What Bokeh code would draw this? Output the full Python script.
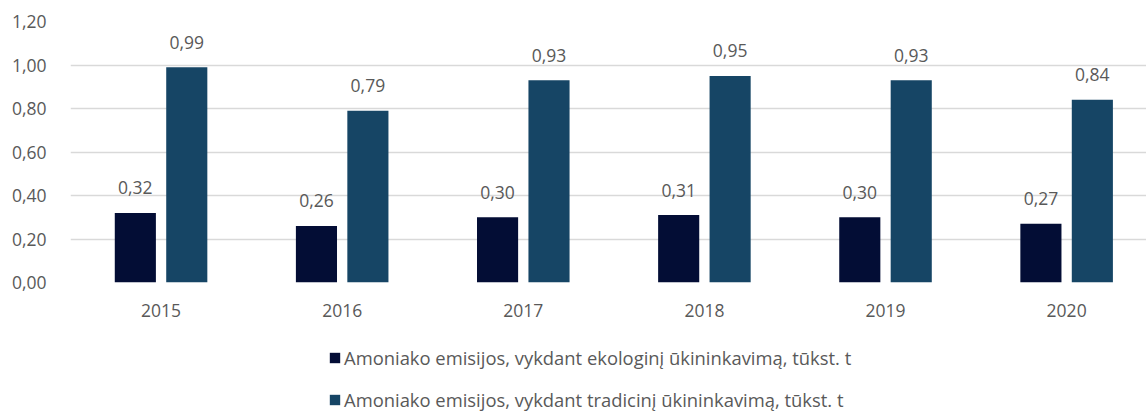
from bokeh.plotting import figure
from bokeh.layouts import column
from bokeh.models import (ColumnDataSource, Range1d, FixedTicker, CustomJSTickFormatter,
                          Legend, LegendItem)
from bokeh.core.properties import value
from bokeh.embed import file_html
from bokeh.resources import INLINE

years = ["2015", "2016", "2017", "2018", "2019", "2020"]
ekologinis = [0.32, 0.26, 0.30, 0.31, 0.30, 0.27]
tradicinis = [0.99, 0.79, 0.93, 0.95, 0.93, 0.84]
series_names = [
    "Amoniako emisijos, vykdant ekologinį ūkininkavimą, tūkst. t",
    "Amoniako emisijos, vykdant tradicinį ūkininkavimą, tūkst. t",
]
y_ticks = [0.0, 0.2, 0.4, 0.6, 0.8, 1.0, 1.2]

FONT = "Open Sans"
TXT = "#595959"
C1 = "#030D35"
C2 = "#164565"
NUM_FS = "17.5px"

xc = [i + 0.5 for i in range(len(years))]
off = 0.142
bw = 0.227

def fmt(v):
    return f"{v:.2f}".replace(".", ",")

s1 = ColumnDataSource(dict(x=[x - off for x in xc], top=ekologinis,
                           lab=[fmt(v) for v in ekologinis]))
s2 = ColumnDataSource(dict(x=[x + off for x in xc], top=tradicinis,
                           lab=[fmt(v) for v in tradicinis]))

p = figure(width=1146, height=330, output_backend="svg", toolbar_location=None,
           x_range=Range1d(0, 5.941), y_range=Range1d(0, 1.2),
           min_border_left=70, min_border_right=0, min_border_top=21,
           min_border_bottom=48)
p.outline_line_color = None
p.background_fill_color = "white"
p.border_fill_color = "white"

p.vbar(x="x", top="top", width=bw, source=s1, fill_color=C1, line_color=None)
p.vbar(x="x", top="top", width=bw, source=s2, fill_color=C2, line_color=None)

for s in (s1, s2):
    p.text(x="x", y="top", text="lab", source=s, text_align="center",
           text_baseline="middle", y_offset=-25, text_font=value(FONT),
           text_font_size=NUM_FS, text_color=TXT)

p.xgrid.grid_line_color = None
p.ygrid.grid_line_color = "#D9D9D9"
p.ygrid.grid_line_width = 1.5

p.xaxis.ticker = FixedTicker(ticks=xc)
p.xaxis.major_label_overrides = {x: y for x, y in zip(xc, years)}
p.yaxis.ticker = FixedTicker(ticks=y_ticks)
p.yaxis.formatter = CustomJSTickFormatter(code="return tick.toFixed(2).replace('.', ',');")
for ax in (p.xaxis, p.yaxis):
    ax.axis_line_color = None
    ax.major_tick_line_color = None
    ax.minor_tick_line_color = None
    ax.major_label_text_font = FONT
    ax.major_label_text_font_size = NUM_FS
    ax.major_label_text_color = TXT
p.xaxis.major_label_standoff = 15
p.yaxis.major_label_standoff = 18

# legend panel
lg = figure(width=1146, height=82, output_backend="svg", toolbar_location=None,
            x_range=Range1d(0, 1), y_range=Range1d(0, 1),
            min_border_left=0, min_border_right=0, min_border_top=0,
            min_border_bottom=0)
lg.axis.visible = False
lg.grid.visible = False
lg.outline_line_color = None
dummy = ColumnDataSource(dict(x=[-10], top=[-10]))
g1 = lg.vbar(x="x", top="top", width=0.1, source=dummy, fill_color=C1, line_color=None)
g2 = lg.vbar(x="x", top="top", width=0.1, source=dummy, fill_color=C2, line_color=None)

legend = Legend(items=[LegendItem(label=series_names[0], renderers=[g1]),
                       LegendItem(label=series_names[1], renderers=[g2])],
                location=(258, 0), orientation="vertical",
                border_line_color=None, background_fill_alpha=0,
                padding=0, margin=0, spacing=17, label_height=20,
                glyph_width=13, glyph_height=13, label_standoff=3,
                label_text_font=FONT, label_text_font_size="18.4px",
                label_text_color=TXT)
lg.add_layout(legend, "center")

open("out.html", "w").write(file_html(column(p, lg), INLINE))
